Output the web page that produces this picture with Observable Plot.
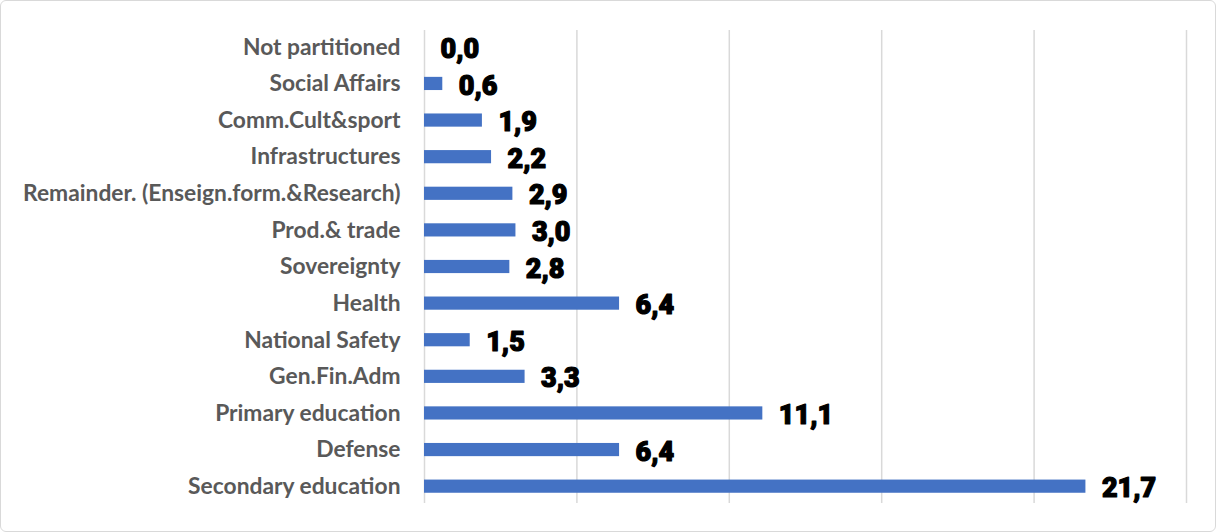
<!DOCTYPE html>
<html>
<head>
<meta charset="utf-8">
<script src="https://cdn.jsdelivr.net/npm/d3@7"></script>
<script src="https://cdn.jsdelivr.net/npm/@observablehq/plot@0.6"></script>
<style>
  html, body { margin: 0; padding: 0; background: #fff; }
  #wrap { position: relative; width: 1216px; height: 532px; }
  #border { position: absolute; left: 0; top: 0; width: 1216px; height: 532px; box-sizing: border-box; border: 1.5px solid #d9d9d9; border-radius: 6px; pointer-events: none; }
</style>
</head>
<body>
<div id="wrap"><div id="border"></div></div>
<script>
const categories = [
  "Not partitioned",
  "Social Affairs",
  "Comm.Cult&sport",
  "Infrastructures",
  "Remainder. (Enseign.form.&Research)",
  "Prod.& trade",
  "Sovereignty",
  "Health",
  "National Safety",
  "Gen.Fin.Adm",
  "Primary education",
  "Defense",
  "Secondary education"
];
const values = [0.0, 0.6, 1.9, 2.2, 2.9, 3.0, 2.8, 6.4, 1.5, 3.3, 11.1, 6.4, 21.7];
const gridTicks = [0, 5, 10, 15, 20, 25];

const data = categories.map((c, i) => ({category: c, value: values[i]}));
const fmt = v => d3.format(".1f")(v).replace(".", ",");

const chart = Plot.plot({
  width: 1216,
  height: 532,
  marginLeft: 424,
  marginRight: 30,
  marginTop: 30,
  marginBottom: 29,
  style: {background: "transparent"},
  x: {domain: [0, 25], axis: null},
  y: {domain: categories, paddingInner: 0.64, paddingOuter: 0.28, round: false, axis: null},
  marks: [
    Plot.ruleX(gridTicks, {stroke: "#d9d9d9", strokeWidth: 1.5}),
    Plot.barX(data, {x: "value", y: "category", fill: "#4472C4"}),
    Plot.text(data, {
      x: 0, y: "category", text: "category", textAnchor: "end", dx: -24,
      fill: "#595959", fontSize: 22.8, fontWeight: "bold", fontFamily: "Lato"
    }),
    Plot.text(data, {
      x: "value", y: "category", text: d => fmt(d.value), textAnchor: "start", dx: 16, dy: 2,
      fill: "#000", fontSize: 27, fontWeight: 900, fontFamily: "Roboto",
      stroke: "#000", strokeWidth: 1.2
    })
  ]
});
document.getElementById("wrap").prepend(chart);
</script>
</body>
</html>
